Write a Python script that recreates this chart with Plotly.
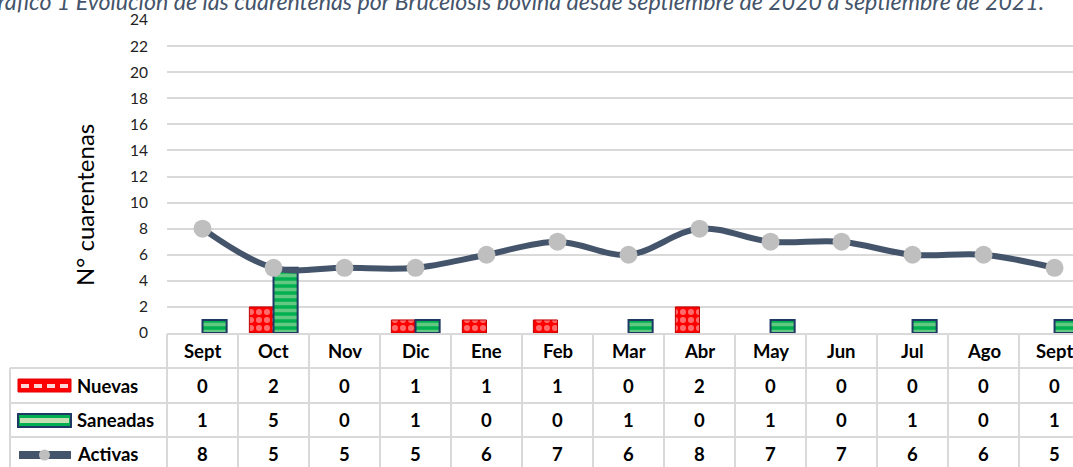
import plotly.graph_objects as go

months = ["Sept", "Oct", "Nov", "Dic", "Ene", "Feb", "Mar", "Abr", "May", "Jun", "Jul", "Ago", "Sept"]
nuevas = [0, 2, 0, 1, 1, 1, 0, 2, 0, 0, 0, 0, 0]
saneadas = [1, 5, 0, 1, 0, 0, 1, 0, 1, 0, 1, 0, 1]
activas = [8, 5, 5, 5, 6, 7, 6, 8, 7, 7, 6, 6, 5]
row_names = ["Nuevas", "Saneadas", "Activas"]
yticks = list(range(0, 25, 2))
title_text = "Gráfico 1 Evolución de las cuarentenas por Brucelosis bovina desde septiembre de 2020 a septiembre de 2021."

W, H = 1073, 467
PL, PR, PT, PB = 167, 1073, 20, 333
XMIN, XMAX = -0.5, 12.26
colw = (PR - PL) / (XMAX - XMIN)


def fx(px):
    return (px - PL) / (PR - PL)


def fy(py):
    return (PB - py) / (PB - PT)


FONT = "Lato"
NAVY = "#44546A"
GRID = "#D9D9D9"

x = list(range(len(months)))
fig = go.Figure()
fig.add_trace(go.Bar(
    x=x, y=nuevas, name="Nuevas",
    marker=dict(color="#FF0000",
                line=dict(color="#C00000", width=[0 if v == 0 else 1 for v in nuevas]),
                pattern=dict(shape=".", bgcolor="#FF0000", fgcolor="#FFD6D6", size=8, solidity=0.45)),
))
fig.add_trace(go.Bar(
    x=x, y=saneadas, name="Saneadas",
    marker=dict(color="#00B050",
                line=dict(color="#1F3864", width=[0 if v == 0 else 2 for v in saneadas]),
                pattern=dict(shape="-", bgcolor="#00B050", fgcolor="#C6E0B4", size=7, solidity=0.5)),
))
fig.add_trace(go.Scatter(
    x=x, y=activas, name="Activas", mode="lines+markers",
    line=dict(color=NAVY, width=6, shape="spline", smoothing=1.0),
    marker=dict(color="#BFBFBF", size=18, line=dict(width=0)),
))

shapes = []
annotations = []

# table borders
row_edges = [334, 368, 403, 437, 471]
for i, ry in enumerate(row_edges):
    left = PL if i == 0 else 10
    shapes.append(dict(type="line", xref="paper", yref="paper", x0=fx(left), x1=fx(PR),
                       y0=fy(ry), y1=fy(ry), line=dict(color=GRID, width=2)))
shapes.append(dict(type="line", xref="paper", yref="paper", x0=fx(10), x1=fx(10),
                   y0=fy(368), y1=fy(471), line=dict(color=GRID, width=2)))
for i in range(len(months) + 1):
    cx = PL + i * colw
    if cx > PR:
        continue
    shapes.append(dict(type="line", xref="paper", yref="paper", x0=fx(cx), x1=fx(cx),
                       y0=fy(334), y1=fy(471), line=dict(color=GRID, width=2)))

TFS = 18.5
row_centers = [351, 385.5, 420, 454]
table_rows = [nuevas, saneadas, activas]
for i, m in enumerate(months):
    annotations.append(dict(x=i, xref="x", xanchor="center", y=fy(row_centers[0]), yref="paper",
                            yanchor="middle", text=f"<b>{m}</b>",
                            showarrow=False, font=dict(family=FONT, size=TFS, color="#000")))
    for r, vals in enumerate(table_rows):
        annotations.append(dict(x=i, xref="x", xanchor="center", y=fy(row_centers[r + 1]), yref="paper",
                                yanchor="middle", text=f"<b>{vals[i]}</b>", showarrow=False,
                                font=dict(family=FONT, size=TFS, color="#000")))

# row labels
for r, name in enumerate(row_names):
    annotations.append(dict(x=fx(75), xref="paper", xanchor="left", y=fy(row_centers[r + 1]), yref="paper",
                            yanchor="middle", text=f"<b>{name}</b>", showarrow=False,
                            font=dict(family=FONT, size=TFS, color="#000")))

# legend keys
shapes.append(dict(type="rect", xref="paper", yref="paper", x0=fx(18), x1=fx(71), y0=fy(392), y1=fy(379),
                   fillcolor="#FF0000", line=dict(color="#E00000", width=1)))
for k in range(4):
    shapes.append(dict(type="rect", xref="paper", yref="paper", x0=fx(21 + k * 13), x1=fx(29 + k * 13),
                       y0=fy(388), y1=fy(384), fillcolor="#FFD6D6", line=dict(width=0)))
shapes.append(dict(type="rect", xref="paper", yref="paper", x0=fx(18), x1=fx(71), y0=fy(427), y1=fy(414),
                   fillcolor="#00B050", line=dict(color="#1F3864", width=2)))
shapes.append(dict(type="rect", xref="paper", yref="paper", x0=fx(20), x1=fx(69), y0=fy(423), y1=fy(418),
                   fillcolor="#C6E0B4", line=dict(width=0)))
shapes.append(dict(type="line", xref="paper", yref="paper", x0=fx(19), x1=fx(71), y0=fy(455), y1=fy(455),
                   line=dict(color=NAVY, width=8)))
shapes.append(dict(type="circle", xref="paper", yref="paper", x0=fx(39), x1=fx(50), y0=fy(460.5), y1=fy(449.5),
                   fillcolor="#BFBFBF", line=dict(width=0)))

# title (clipped at page edges as in original)
annotations.append(dict(x=fx(1046), xref="paper", xanchor="right", y=fy(1.5), yref="paper", yanchor="middle",
                        text=f"<i>{title_text}</i>", showarrow=False,
                        font=dict(family=FONT, size=23.2, color=NAVY)))
# y axis title
annotations.append(dict(x=fx(84), xref="paper", xanchor="center", y=fy(205), yref="paper", yanchor="middle",
                        text="N° cuarentenas", textangle=-90, showarrow=False,
                        font=dict(family=FONT, size=24, color="#000")))

fig.update_layout(
    width=W, height=H,
    margin=dict(l=PL, r=W - PR, t=PT, b=H - PB, pad=0),
    paper_bgcolor="white", plot_bgcolor="white",
    barmode="group", bargap=0.32, bargroupgap=0,
    showlegend=False,
    shapes=shapes, annotations=annotations,
    xaxis=dict(range=[XMIN, XMAX], showticklabels=False, showgrid=False, zeroline=False, ticks=""),
    yaxis=dict(range=[0, 24], tickvals=yticks, showgrid=True, gridcolor=GRID, gridwidth=1.5,
               zeroline=False, ticks="", ticklabelstandoff=18,
               tickfont=dict(family=FONT, size=15.5, color="#222")),
)

fig.write_html("out.html", config={"displayModeBar": False},
               post_script="document.body.style.margin='0';document.body.style.overflow='hidden';")
